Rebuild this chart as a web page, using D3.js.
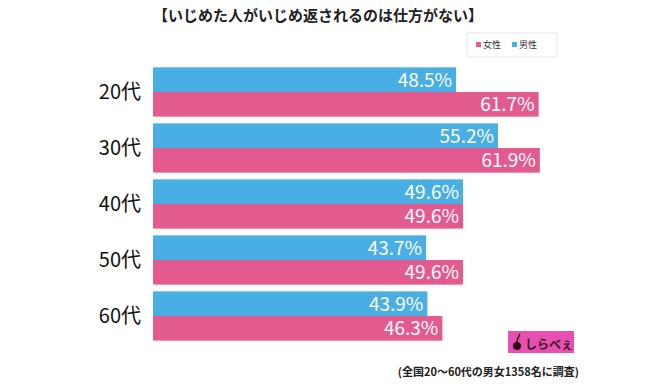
<!DOCTYPE html>
<html>
<head>
<meta charset="utf-8">
<script src="https://cdn.jsdelivr.net/npm/d3@7"></script>
<style>
  body { margin: 0; background: #fff; }
  text { font-family: "Noto Sans CJK JP", "Noto Sans", sans-serif; }
</style>
</head>
<body>
<div id="chart"></div>
<script>
const categories = ["20代", "30代", "40代", "50代", "60代"]
const series = ["男性", "女性"]
const male = [48.5, 55.2, 49.6, 43.7, 43.9]
const female = [61.7, 61.9, 49.6, 49.6, 46.3]

const W = 646, H = 388
const COLORS = {"男性": "#48aee3", "女性": "#e35a8e"}

const svg = d3.select("#chart").append("svg")
  .attr("width", W)
  .attr("height", H)

// title
svg.append("text")
  .attr("x", 318)
  .attr("y", 21)
  .attr("text-anchor", "middle")
  .attr("font-size", "15px")
  .attr("font-weight", "bold")
  .attr("fill", "#222")
  .text("【いじめた人がいじめ返されるのは仕方がない】")

const x = d3.scaleLinear()
  .domain([0, 100])
  .range([153, 778])

const y = d3.scaleBand()
  .domain(categories)
  .range([64, 344])
  .paddingInner(0.12)
  .paddingOuter(0.06)

const sub = d3.scaleBand()
  .domain(series)
  .range([0, y.bandwidth()])

const data = categories.map(function(c, i) {
  return {cat: c, values: [{s: "男性", v: male[i]}, {s: "女性", v: female[i]}]}
})

const groups = svg.selectAll("g.grp")
  .data(data)
  .enter().append("g")
  .attr("class", "grp")
  .attr("transform", function(d) { return `translate(0, ${y(d.cat)})` })

groups.selectAll("rect")
  .data(function(d) { return d.values })
  .enter().append("rect")
  .attr("x", x(0))
  .attr("y", function(d) { return sub(d.s) })
  .attr("width", function(d) { return x(d.v) - x(0) })
  .attr("height", sub.bandwidth())
  .attr("fill", function(d) { return COLORS[d.s] })

groups.selectAll("text.val")
  .data(function(d) { return d.values })
  .enter().append("text")
  .attr("class", "val")
  .attr("x", function(d) { return x(d.v) - 4 })
  .attr("y", function(d) { return sub(d.s) + sub.bandwidth() / 2 + 7 })
  .attr("text-anchor", "end")
  .attr("font-size", "19px")
  .attr("fill", "#fff")
  .attr("font-family", "'Liberation Sans', 'Noto Sans', sans-serif")
  .text(function(d) { return d.v.toFixed(1) + "%" })

// category labels
const yAxis = d3.axisLeft(y).tickSize(0).tickPadding(0)
svg.append("g")
  .attr("transform", "translate(141, 0)")
  .call(yAxis)
  .call(function(g) { g.select(".domain").remove() })
  .selectAll("text")
    .attr("font-size", "20px")
    .attr("fill", "#111")
    .attr("font-family", "'Liberation Sans', 'Noto Sans CJK JP', sans-serif")
    .attr("dy", "0.36em")

// legend
const legend = svg.append("g").attr("transform", "translate(467, 33)")
legend.append("rect")
  .attr("width", 90).attr("height", 24)
  .attr("fill", "#fff").attr("stroke", "#e6e6e6")
const legendItems = ["女性", "男性"]
legendItems.forEach(function(s, i) {
  legend.append("rect")
    .attr("x", 9 + i * 36).attr("y", 9)
    .attr("width", 5).attr("height", 5)
    .attr("fill", COLORS[s])
  legend.append("text")
    .attr("x", 16 + i * 36).attr("y", 15)
    .attr("font-size", "9px")
    .attr("fill", "#333")
    .text(s)
})

// logo
const logo = svg.append("g").attr("transform", "translate(508, 331)")
logo.append("rect").attr("width", 66).attr("height", 22).attr("fill", "#e74fb3")
logo.append("circle").attr("cx", 9).attr("cy", 15).attr("r", 4).attr("fill", "#2a1010")
logo.append("path")
  .attr("d", "M9,11 C9,6 13,4 11,3")
  .attr("stroke", "#2a1010").attr("stroke-width", 1.5).attr("fill", "none")
logo.append("text")
  .attr("x", 17).attr("y", 18)
  .attr("font-size", "12px").attr("font-weight", "bold")
  .attr("fill", "#3a1a1a")
  .text("しらべぇ")

// footnote
svg.append("text")
  .attr("x", 579)
  .attr("y", 376)
  .attr("text-anchor", "end")
  .attr("font-size", "11px")
  .attr("font-weight", "bold")
  .attr("fill", "#222")
  .text("(全国20～60代の男女1358名に調査)")
</script>
</body>
</html>
